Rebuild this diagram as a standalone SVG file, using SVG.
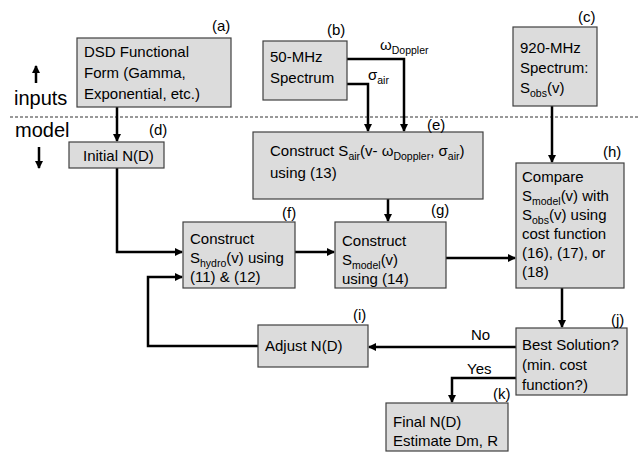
<svg xmlns="http://www.w3.org/2000/svg" width="639" height="452" viewBox="0 0 639 452">
<style>
.box{fill:#dcdcdc;stroke:#404040;stroke-width:1.2}
.t{font-family:"Liberation Sans",Arial,sans-serif;font-size:15px;fill:#000}
.lbl{font-family:"Liberation Sans",Arial,sans-serif;font-size:15px;fill:#000}
.big{font-family:"Liberation Sans",Arial,sans-serif;font-size:20px;fill:#000}
.sub{font-size:10.5px}
.c{fill:none;stroke:#000;stroke-width:2.5}
</style>
<defs>
<marker id="ah" markerWidth="8" markerHeight="8" refX="7" refY="4" orient="auto" markerUnits="userSpaceOnUse">
<path d="M0,0 L8,4 L0,8 z" fill="#000"/>
</marker>
</defs>
<rect width="639" height="452" fill="#fff"/>
<g id="axis">
<line x1="10" y1="117" x2="639" y2="117" stroke="#333" stroke-width="1" stroke-dasharray="3,2"/>
<text class="big" x="14" y="105">inputs</text>
<text class="big" x="15" y="137">model</text>
<line x1="36" y1="83" x2="36" y2="66" stroke="#000" stroke-width="2.5" marker-end="url(#ah)"/>
<line x1="39" y1="147" x2="39" y2="168" stroke="#000" stroke-width="2.5" marker-end="url(#ah)"/>
</g>
<g id="connectors">
<path class="c" d="M117,107 V141" marker-end="url(#ah)"/>
<path class="c" d="M347,59 H404 V131" marker-end="url(#ah)"/>
<path class="c" d="M347,84 H368 V131" marker-end="url(#ah)"/>
<path class="c" d="M552,106 V162" marker-end="url(#ah)"/>
<path class="c" d="M388,199 V221" marker-end="url(#ah)"/>
<path class="c" d="M117,168 V252 H182" marker-end="url(#ah)"/>
<path class="c" d="M295,252 H334" marker-end="url(#ah)"/>
<path class="c" d="M446,258 H515" marker-end="url(#ah)"/>
<path class="c" d="M562,288 V327" marker-end="url(#ah)"/>
<path class="c" d="M516,347 H369" marker-end="url(#ah)"/>
<path class="c" d="M258,346 H148 V277 H182" marker-end="url(#ah)"/>
<path class="c" d="M516,378 H452 V402" marker-end="url(#ah)"/>
<text class="lbl" x="380" y="50">ω<tspan class="sub" dy="4">Doppler</tspan></text>
<text class="lbl" x="368" y="80">σ<tspan class="sub" dy="4">air</tspan></text>
<text class="lbl" x="471" y="340">No</text>
<text class="lbl" x="467" y="374">Yes</text>
</g>
<g id="a">
<rect class="box" x="77" y="38" width="154" height="69"/>
<text class="t" x="84" y="57">DSD Functional</text>
<text class="t" x="84" y="78">Form (Gamma,</text>
<text class="t" x="84" y="99">Exponential, etc.)</text>
<text class="lbl" x="212" y="31">(a)</text>
</g>
<g id="b">
<rect class="box" x="263" y="41" width="84" height="59"/>
<text class="t" x="270" y="62">50-MHz</text>
<text class="t" x="270" y="83">Spectrum</text>
<text class="lbl" x="327" y="35">(b)</text>
</g>
<g id="c">
<rect class="box" x="513" y="27" width="84" height="79"/>
<text class="t" x="520" y="53">920-MHz</text>
<text class="t" x="520" y="73">Spectrum:</text>
<text class="t" x="520" y="93">S<tspan class="sub" dy="4">obs</tspan><tspan dy="-4">(v)</tspan></text>
<text class="lbl" x="578" y="22">(c)</text>
</g>
<g id="d">
<rect class="box" x="69" y="142" width="95" height="26"/>
<text class="t" x="83" y="161">Initial N(D)</text>
<text class="lbl" x="149" y="135">(d)</text>
</g>
<g id="e">
<rect class="box" x="253" y="132" width="230" height="67"/>
<text class="t" x="270" y="156">Construct S<tspan class="sub" dy="4">air</tspan><tspan dy="-4">(v- ω</tspan><tspan class="sub" dy="4">Doppler</tspan><tspan dy="-4">, σ</tspan><tspan class="sub" dy="4">air</tspan><tspan dy="-4">)</tspan></text>
<text class="t" x="270" y="178">using (13)</text>
<text class="lbl" x="427" y="130">(e)</text>
</g>
<g id="f">
<rect class="box" x="183" y="222" width="112" height="66"/>
<text class="t" x="190" y="244">Construct</text>
<text class="t" x="190" y="263">S<tspan class="sub" dy="4">hydro</tspan><tspan dy="-4">(v) using</tspan></text>
<text class="t" x="190" y="282">(11) &amp; (12)</text>
<text class="lbl" x="282" y="218">(f)</text>
</g>
<g id="g">
<rect class="box" x="335" y="222" width="111" height="66"/>
<text class="t" x="342" y="246">Construct</text>
<text class="t" x="342" y="265">S<tspan class="sub" dy="4">model</tspan><tspan dy="-4">(v)</tspan></text>
<text class="t" x="342" y="284">using (14)</text>
<text class="lbl" x="431" y="215">(g)</text>
</g>
<g id="h">
<rect class="box" x="516" y="163" width="108" height="125"/>
<text class="t" x="522" y="182">Compare</text>
<text class="t" x="522" y="201">S<tspan class="sub" dy="4">model</tspan><tspan dy="-4">(v) with</tspan></text>
<text class="t" x="522" y="220">S<tspan class="sub" dy="4">obs</tspan><tspan dy="-4">(v) using</tspan></text>
<text class="t" x="522" y="239">cost function</text>
<text class="t" x="522" y="258">(16), (17), or</text>
<text class="t" x="522" y="277">(18)</text>
<text class="lbl" x="603" y="157">(h)</text>
</g>
<g id="i">
<rect class="box" x="258" y="325" width="110" height="42"/>
<text class="t" x="265" y="351">Adjust N(D)</text>
<text class="lbl" x="353" y="320">(i)</text>
</g>
<g id="j">
<rect class="box" x="516" y="328" width="111" height="67"/>
<text class="t" x="522" y="350">Best Solution?</text>
<text class="t" x="522" y="370">(min. cost</text>
<text class="t" x="522" y="390">function?)</text>
<text class="lbl" x="611" y="325">(j)</text>
</g>
<g id="k">
<rect class="box" x="386" y="403" width="122" height="48"/>
<text class="t" x="393" y="427">Final N(D)</text>
<text class="t" x="393" y="446">Estimate Dm, R</text>
<text class="lbl" x="493" y="399">(k)</text>
</g>
</svg>
